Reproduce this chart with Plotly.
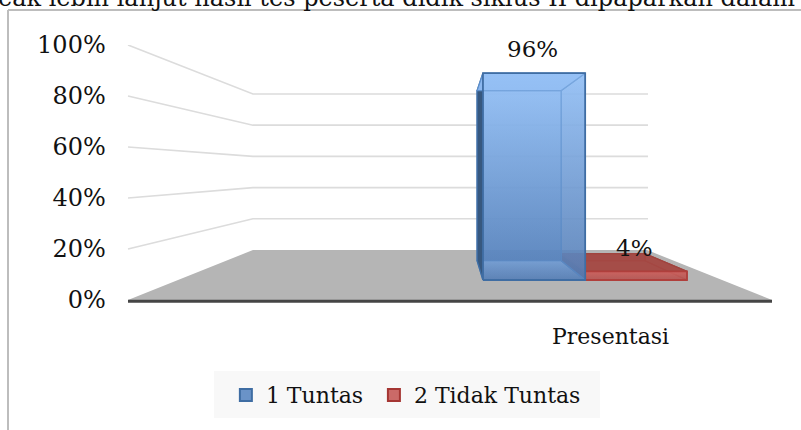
import plotly.graph_objects as go

# ---- data ----
categories = ["Presentasi"]
series_names = ["1 Tuntas", "2 Tidak Tuntas"]
tuntas = [96]
tidak_tuntas = [4]
tick_values = [0, 20, 40, 60, 80, 100]
tick_labels = ["0%", "20%", "40%", "60%", "80%", "100%"]
page_text = "eak lebih lanjut hasil tes peserta didik siklus II dipaparkan dalam"

FONT = "DejaVu Serif"
W, H = 801, 430
Y0, Y100 = 300.0, 45.0        # pixel rows of the 0 % and 100 % ticks
FLOOR_BACK = 19.6             # axis units the back wall's base sits above the front edge
BACK_SCALE = 0.612            # perspective shrink at the back wall
CX = 450.0                    # horizontal vanishing column
HALF = 322.0                  # half width of the floor front edge
BAR_D0, BAR_D1 = 0.4, 0.785   # depth of bar front and rear
Y_PAD = 4.0                   # axis units kept under 0 % so the thick front edge is not culled


def proj(u, v, d):
    """u: -1..1 across the floor, v: value in %, d: depth 0..1 -> x, y on axes."""
    s = 1 - (1 - BACK_SCALE) * d
    return CX + u * HALF * s, FLOOR_BACK * d + v * s


fig = go.Figure()


def add_poly(points, fill=None, line=None, width=0):
    xs, ys = zip(*[proj(*p) for p in points])
    kw = dict(x=list(xs) + [xs[0]], y=list(ys) + [ys[0]], mode="lines", showlegend=False,
              hoverinfo="skip", fill="toself", cliponaxis=False,
              line=dict(color=line or "rgba(0,0,0,0)", width=width))
    if isinstance(fill, tuple):
        kw["fillgradient"] = dict(type="vertical", colorscale=[[0, fill[0]], [1, fill[1]]])
    else:
        kw["fillcolor"] = fill
    fig.add_trace(go.Scatter(**kw))


def add_line(points, color, width):
    xs, ys = zip(*[proj(*p) for p in points])
    fig.add_trace(go.Scatter(x=list(xs), y=list(ys), mode="lines", showlegend=False,
                             hoverinfo="skip", cliponaxis=False, line=dict(color=color, width=width)))


# walls
for t in tick_values[1:]:
    add_line([(-1, t, 0), (-1, t, 1), (198.0 / HALF / BACK_SCALE, t, 1)], "#dcdcdc", 1.6)

# floor
add_poly([(-1, 0, 0), (-1, 0, 1), (1, 0, 1), (1, 0, 0)], fill="#b5b5b5")


def bar3d(u0, u1, v, edge, front, back, side, top, dark, inner):
    add_poly([(u0, 0, BAR_D1), (u1, 0, BAR_D1), (u1, v, BAR_D1), (u0, v, BAR_D1)], fill=back, line=inner, width=1.2)
    add_poly([(u0, 0, BAR_D0), (u1, 0, BAR_D0), (u1, 0, BAR_D1), (u0, 0, BAR_D1)], fill=side, line=inner, width=1.2)
    add_poly([(u0, 0, BAR_D0), (u0, 0, BAR_D1), (u0, v, BAR_D1), (u0, v, BAR_D0)], fill=dark, line=edge, width=1.4)
    add_poly([(u1, 0, BAR_D0), (u1, 0, BAR_D1), (u1, v, BAR_D1), (u1, v, BAR_D0)], fill=side, line=inner, width=1.2)
    add_poly([(u0, v, BAR_D0), (u1, v, BAR_D0), (u1, v, BAR_D1), (u0, v, BAR_D1)], fill=top, line=inner, width=1.2)
    add_poly([(u0, 0, BAR_D0), (u1, 0, BAR_D0), (u1, v, BAR_D0), (u0, v, BAR_D0)], fill=front, line=edge, width=1.8)


u_blue = 39.0 / HALF
u_split = 160.0 / HALF
u_end = 280.5 / HALF

# red bar first so that the translucent blue bar overlaps its rear corner
bar3d(u_split, u_end, tidak_tuntas[0], "#b03f3c",
      ("rgba(190,90,88,0.6)", "rgba(210,100,96,0.9)"),
      "rgba(150,62,60,0.8)", "rgba(160,68,64,0.75)", "rgba(165,72,68,0.8)",
      "rgba(120,50,48,0.8)", "#a0443f")
bar3d(u_blue, u_split, tuntas[0], "#3f6da3",
      ("rgba(80,122,178,0.5)", "rgba(148,192,245,0.5)"),
      ("rgba(90,135,195,0.9)", "rgba(145,190,245,0.9)"),
      ("rgba(88,128,185,0.8)", "rgba(145,190,245,0.85)"),
      "rgba(145,190,245,0.95)",
      "#37587f", "#5d8fcb")

# front axis edge
add_line([(-1, -0.5, 0), (1, -0.5, 0)], "#454545", 3)

# legend entries
fig.add_trace(go.Scatter(x=[None], y=[None], mode="markers", name=series_names[0], legend="legend",
                         marker=dict(symbol="square", size=14, color="#6a93c8",
                                     line=dict(color="#3f6da3", width=2))))
fig.add_trace(go.Scatter(x=[None], y=[None], mode="markers", name=series_names[1], legend="legend2",
                         marker=dict(symbol="square", size=14, color="#cb6a68",
                                     line=dict(color="#a53633", width=2))))

# data labels
xa, ya = proj((u_blue + u_split) / 2, tuntas[0], BAR_D0)
xb, yb = proj((u_split + u_end) / 2, tidak_tuntas[0], (BAR_D0 + BAR_D1) / 2)
txt = dict(font=dict(family=FONT, size=23, color="#111"), showarrow=False)
fig.add_annotation(x=xa, y=ya, text=f"{tuntas[0]}%", yshift=24, xshift=-2, **txt)
fig.add_annotation(x=xb, y=yb, text=f"{tidak_tuntas[0]}%", yshift=15, xshift=15, **txt)
fig.add_annotation(x=610, y=proj(0, 0, 0)[1], text=categories[0], yshift=-36,
                   font=dict(family=FONT, size=22, color="#111"), showarrow=False)

# text of the surrounding page, cropped by the top edge
fig.add_annotation(xref="paper", yref="paper", x=0, xanchor="left", y=1, yanchor="top",
                   yshift=18, xshift=-4, text=page_text, showarrow=False,
                   font=dict(family=FONT, size=24, color="#111"))

legend_common = dict(orientation="h", y=0.13, xanchor="left", yanchor="top",
                     bgcolor="rgba(0,0,0,0)", font=dict(family=FONT, size=22, color="#111"),
                     itemsizing="constant")
unit_px = (Y0 - Y100) / 100.0

fig.update_layout(
    width=W, height=H, paper_bgcolor="white", plot_bgcolor="rgba(0,0,0,0)",
    margin=dict(l=0, r=0, t=0, b=0, autoexpand=False),
    xaxis=dict(range=[0, W], visible=False, domain=[0, 1], fixedrange=True),
    yaxis=dict(range=[-Y_PAD, 100], domain=[1 - (Y0 + Y_PAD * unit_px) / H, 1 - Y100 / H], tickmode="array",
               tickvals=tick_values, ticktext=tick_labels, showgrid=False, zeroline=False,
               showline=False, ticks="", anchor="free", position=0.132,
               tickfont=dict(family=FONT, size=24, color="#111"), fixedrange=True),
    legend=dict(x=0.282, **legend_common),
    legend2=dict(x=0.4668, **legend_common),
    shapes=[
        dict(type="rect", xref="paper", yref="paper", x0=214 / W, x1=600 / W,
             y0=1 - 418 / H, y1=1 - 371 / H, fillcolor="#f8f8f8", line=dict(width=0), layer="below"),
        dict(type="line", xref="paper", yref="paper", x0=8 / W, x1=8 / W, y0=0, y1=1 - 10 / H,
             line=dict(color="#bdbdbd", width=2)),
        dict(type="line", xref="paper", yref="paper", x0=8 / W, x1=1, y0=1 - 10 / H, y1=1 - 10 / H,
             line=dict(color="#bdbdbd", width=2)),
    ],
)
fig.write_html("out.html", config={"displayModeBar": False},
               post_script="document.body.style.margin='0';document.body.style.overflow='hidden';")
